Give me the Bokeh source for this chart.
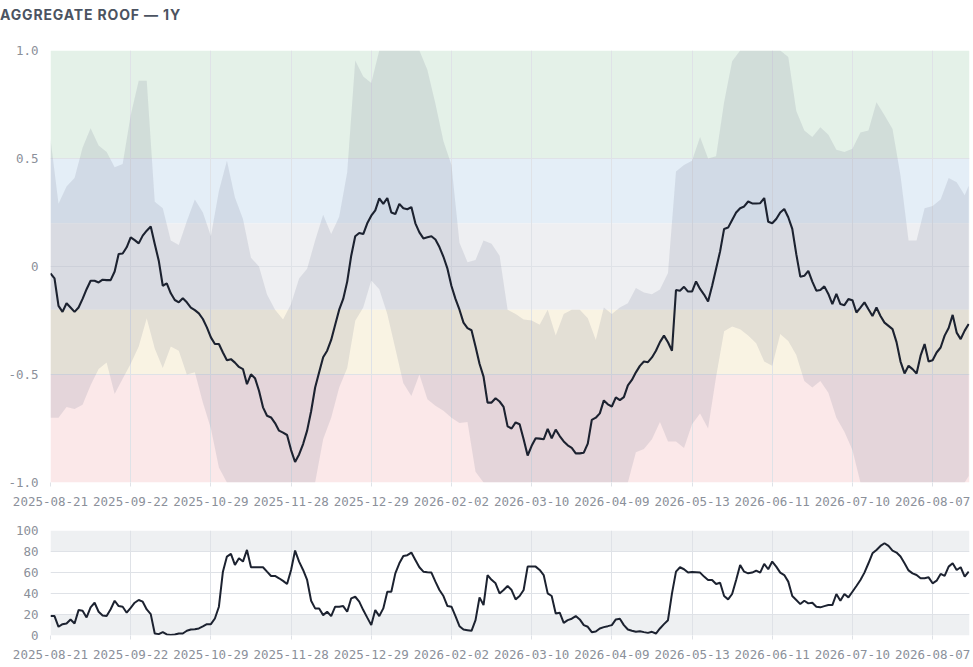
from bokeh.plotting import figure
from bokeh.models import Range1d, FixedTicker, BoxAnnotation, Div
from bokeh.layouts import column
from bokeh.embed import file_html
from bokeh.resources import INLINE

# ---------------- data ----------------
tick_idx = [0, 20, 40, 60, 80, 100, 120, 140, 160, 180, 200, 220]
tick_labels = ["2025-08-21", "2025-09-22", "2025-10-29", "2025-11-28", "2025-12-29",
               "2026-02-02", "2026-03-10", "2026-04-09", "2026-05-13", "2026-06-11",
               "2026-07-10", "2026-08-07"]

roof = [
    -0.032, -0.055, -0.182, -0.21, -0.17, -0.19, -0.21, -0.19, -0.15, -0.105,
    -0.066, -0.066, -0.074, -0.061, -0.063, -0.063, -0.023, 0.058, 0.06, 0.089,
    0.135, 0.122, 0.107, 0.143, 0.166, 0.185, 0.104, 0.027, -0.089, -0.078,
    -0.124, -0.155, -0.166, -0.147, -0.166, -0.19, -0.202, -0.217, -0.243, -0.282,
    -0.328, -0.359, -0.359, -0.398, -0.434, -0.429, -0.445, -0.465, -0.475, -0.545,
    -0.499, -0.517, -0.575, -0.652, -0.691, -0.699, -0.725, -0.76, -0.769, -0.78,
    -0.85, -0.905, -0.87, -0.822, -0.76, -0.67, -0.56, -0.49, -0.42, -0.39,
    -0.34, -0.27, -0.2, -0.15, -0.07, 0.05, 0.14, 0.155, 0.15, 0.2,
    0.235, 0.26, 0.315, 0.29, 0.317, 0.25, 0.243, 0.29, 0.27, 0.265,
    0.275, 0.2, 0.158, 0.13, 0.135, 0.14, 0.125, 0.09, 0.045, -0.01,
    -0.09, -0.15, -0.2, -0.26, -0.285, -0.295, -0.37, -0.45, -0.51, -0.63,
    -0.63, -0.61, -0.625, -0.65, -0.74, -0.75, -0.722, -0.73, -0.8, -0.875,
    -0.83, -0.795, -0.797, -0.8, -0.752, -0.795, -0.755, -0.785, -0.81, -0.828,
    -0.84, -0.865, -0.865, -0.862, -0.82, -0.71, -0.7, -0.68, -0.62, -0.638,
    -0.648, -0.606, -0.619, -0.605, -0.55, -0.525, -0.49, -0.46, -0.44, -0.443,
    -0.421, -0.39, -0.35, -0.32, -0.351, -0.39, -0.109, -0.112, -0.094, -0.116,
    -0.116, -0.069, -0.104, -0.13, -0.162, -0.09, -0.01, 0.07, 0.174, 0.18,
    0.215, 0.25, 0.27, 0.278, 0.301, 0.292, 0.292, 0.293, 0.317, 0.207,
    0.2, 0.22, 0.25, 0.266, 0.228, 0.174, 0.057, -0.047, -0.043, -0.02,
    -0.07, -0.112, -0.109, -0.092, -0.127, -0.174, -0.127, -0.174, -0.179, -0.151,
    -0.156, -0.213, -0.19, -0.166, -0.198, -0.229, -0.19, -0.229, -0.26, -0.275,
    -0.29, -0.35, -0.44, -0.495, -0.46, -0.475, -0.495, -0.413, -0.359, -0.44,
    -0.434, -0.398, -0.375, -0.32, -0.285, -0.224, -0.306, -0.336, -0.297, -0.266,
]

env_idx = list(range(0, 229, 2)) + [229]
env_upper = [
    0.59, 0.29, 0.37, 0.41, 0.55, 0.64, 0.56, 0.53, 0.46, 0.475,
    0.70, 0.86, 0.86, 0.30, 0.27, 0.12, 0.10, 0.21, 0.31, 0.25,
    0.14, 0.35, 0.49, 0.32, 0.22, 0.04, 0.0, -0.13, -0.2, -0.245,
    -0.174, -0.055, -0.01, 0.12, 0.24, 0.15, 0.23, 0.436, 0.954, 0.88,
    0.85, 1.0, 1.0, 1.0, 1.0, 1.0, 1.0, 0.91, 0.753, 0.58,
    0.47, 0.11, 0.02, 0.03, 0.12, 0.105, 0.05, -0.2, -0.22, -0.245,
    -0.25, -0.27, -0.2, -0.32, -0.22, -0.2, -0.2, -0.24, -0.34, -0.19,
    -0.22, -0.19, -0.17, -0.1, -0.12, -0.128, -0.107, -0.03, 0.44, 0.47,
    0.49, 0.60, 0.50, 0.51, 0.76, 0.95, 1.0, 1.0, 1.0, 1.0,
    1.0, 1.0, 0.97, 0.72, 0.63, 0.6, 0.645, 0.61, 0.54, 0.53,
    0.545, 0.62, 0.63, 0.76, 0.70, 0.637, 0.42, 0.12, 0.12, 0.27,
    0.28, 0.31, 0.41, 0.39, 0.33, 0.374,
]
env_lower = [
    -0.70, -0.70, -0.65, -0.66, -0.64, -0.55, -0.475, -0.445, -0.59, -0.52,
    -0.45, -0.37, -0.24, -0.38, -0.47, -0.37, -0.39, -0.50, -0.49, -0.63,
    -0.75, -0.93, -1.0, -1.0, -1.0, -1.0, -1.0, -1.0, -1.0, -1.0,
    -1.0, -1.0, -1.0, -1.0, -0.80, -0.70, -0.56, -0.47, -0.251, -0.19,
    -0.065, -0.105, -0.22, -0.38, -0.54, -0.60, -0.50, -0.615, -0.645, -0.668,
    -0.70, -0.725, -0.72, -0.95, -1.0, -1.0, -1.0, -1.0, -1.0, -1.0,
    -1.0, -1.0, -1.0, -1.0, -1.0, -1.0, -1.0, -1.0, -1.0, -1.0,
    -1.0, -1.0, -1.0, -0.86, -0.845, -0.80, -0.72, -0.81, -0.81, -0.84,
    -0.73, -0.68, -0.75, -0.51, -0.30, -0.278, -0.29, -0.32, -0.355, -0.44,
    -0.46, -0.313, -0.345, -0.41, -0.53, -0.56, -0.53, -0.585, -0.70, -0.765,
    -0.85, -1.0, -1.0, -1.0, -1.0, -1.0, -1.0, -1.0, -1.0, -1.0,
    -1.0, -1.0, -1.0, -1.0, -1.0, -0.97,
]

osc = [
    18.5, 18.5, 8.3, 10.8, 11.5, 15.3, 11.5, 24.2, 23.6, 17.2,
    26.8, 31.2, 22.6, 19.1, 18.5, 25, 33.1, 28, 27.4, 21.7,
    26.4, 31.2, 33.8, 32.2, 24.8, 20.4, 1.9, 1.3, 3.2, 1,
    0.6, 1, 1.9, 1.9, 4.5, 5.7, 6, 6.7, 8.6, 10.8,
    10.8, 16.2, 27.4, 60.8, 75.2, 77.7, 67.2, 73.6, 70.4, 81.5,
    65, 65, 65, 65, 60.8, 56.7, 56.7, 54.5, 52, 49,
    62.4, 80.9, 70.4, 62.4, 52.9, 33.1, 25.8, 25.8, 19.4, 22.6,
    18.5, 27.4, 27.4, 28, 22.6, 35.4, 36.9, 32.2, 24.2, 17,
    9.9, 24.2, 18.5, 25.8, 41.7, 41.7, 59.2, 68.8, 75.8, 76.5,
    79, 72, 65, 60.8, 60.3, 59.9, 51.3, 43.3, 37.6, 28,
    27.4, 18.5, 8.9, 5.7, 5.1, 4.5, 14.6, 36.3, 29, 57.6,
    53, 49.7, 40.1, 43.3, 47.1, 43.3, 34.4, 37.6, 43.3, 65.6,
    65.6, 65.6, 62.4, 57.6, 40.1, 37.6, 21, 21.7, 12.1, 14.6,
    16, 18.5, 15.3, 9.9, 8.3, 3.2, 3.8, 6.7, 8, 8.9,
    9.9, 15.3, 15.9, 9.9, 5.7, 4.5, 3.5, 4.1, 3.2, 2.5,
    3.5, 1.9, 6.7, 10.8, 14.6, 40.1, 60.8, 65, 63.1, 59.9,
    60.5, 60.2, 59.9, 56.1, 52.9, 52.9, 49, 50.3, 37.6, 34.4,
    39.5, 52.9, 67.2, 60.8, 59.2, 59.9, 61.8, 59.9, 68.2, 63.1,
    70.4, 65.6, 59.9, 57.6, 51.3, 37.6, 33.8, 29.9, 33.1, 30.6,
    31.2, 27.4, 26.8, 28, 29, 29, 39.5, 33.1, 39.5, 36.3,
    41.7, 47.1, 52.9, 59.9, 68.8, 78.3, 81.5, 85.3, 87.9, 85.3,
    80.9, 79, 75.2, 68.8, 62, 59.2, 57.6, 54.5, 54.5, 55.4,
    49.7, 52.2, 58.6, 56.7, 65.6, 68.8, 62.4, 65, 56.1, 60.8,
]
idx = list(range(len(roof)))

zone_lo = [0.5, 0.2, -0.2, -0.5, -1.0]
zone_hi = [1.0, 0.5, 0.2, -0.2, -0.5]
zone_colors = ["#e4f1e8", "#e4eef7", "#eeeff2", "#f9f3e3", "#fbe8e9"]

roof_ticks = [-1.0, -0.5, 0, 0.5, 1.0]
roof_tick_labels = ["-1.0", "-0.5", "0", "0.5", "1.0"]

osc_zone_lo = [80, 0]
osc_zone_hi = [100, 20]
osc_ticks = [0, 20, 40, 60, 80, 100]

# ---------------- styling helpers ----------------
GRID = "#dfe2e7"
LABEL = "#8b909a"
LINE = "#1c2230"
MONO = "DejaVu Sans Mono"


def style(p, yticks, yoverrides=None):
    p.outline_line_color = None
    p.background_fill_color = "white"
    p.border_fill_color = "white"
    p.xaxis.ticker = FixedTicker(ticks=tick_idx)
    p.xaxis.major_label_overrides = dict(zip(tick_idx, tick_labels))
    p.yaxis.ticker = FixedTicker(ticks=yticks)
    if yoverrides:
        p.yaxis.major_label_overrides = yoverrides
    p.xgrid.ticker = FixedTicker(ticks=tick_idx)
    p.ygrid.ticker = FixedTicker(ticks=yticks)
    for g in (p.xgrid, p.ygrid):
        g.grid_line_color = GRID
        g.grid_line_width = 1
    for ax in (p.xaxis, p.yaxis):
        ax.axis_line_color = None
        ax.minor_tick_line_color = None
        ax.major_label_text_font = MONO
        ax.major_label_text_font_size = "12.5px"
        ax.major_label_text_color = LABEL
    p.xaxis.major_tick_line_color = GRID
    p.xaxis.major_tick_in = 0
    p.xaxis.major_tick_out = 4
    p.yaxis.major_tick_line_color = None
    p.yaxis.major_tick_in = 0
    p.yaxis.major_tick_out = 0
    p.yaxis.major_label_standoff = 12


x_range = Range1d(0, 229.2)

# ---------------- top chart ----------------
p1 = figure(frame_width=919, frame_height=432, x_range=x_range, y_range=Range1d(-1, 1),
            output_backend="svg", toolbar_location=None,
            min_border_left=50, min_border_right=2, min_border_top=10, min_border_bottom=0)
for lo, hi, col in zip(zone_lo, zone_hi, zone_colors):
    p1.add_layout(BoxAnnotation(bottom=lo, top=hi, fill_color=col, fill_alpha=1.0,
                                line_color=None, level="image"))
p1.varea(x=env_idx, y1=env_lower, y2=env_upper, fill_color="#707590", fill_alpha=0.16)
p1.line(idx, roof, line_color=LINE, line_width=2.1)
style(p1, roof_ticks, dict(zip(roof_ticks, roof_tick_labels)))
p1.xaxis.major_label_standoff = 10

# ---------------- bottom chart ----------------
p2 = figure(frame_width=919, frame_height=105, x_range=x_range, y_range=Range1d(0, 100),
            output_backend="svg", toolbar_location=None,
            min_border_left=50, min_border_right=2, min_border_top=22, min_border_bottom=0)
for lo, hi in zip(osc_zone_lo, osc_zone_hi):
    p2.add_layout(BoxAnnotation(bottom=lo, top=hi, fill_color="#eef0f2", fill_alpha=1.0,
                                line_color=None, level="image"))
p2.line(idx, osc, line_color=LINE, line_width=2.0)
style(p2, osc_ticks)
p2.xaxis.major_label_standoff = 10

title = Div(text="AGGREGATE ROOF — 1Y", width=971, height=40, margin=(0, 0, 0, 0),
            styles={"font-family": "Inter, 'Noto Sans', sans-serif", "font-weight": "700",
                    "font-size": "14px", "color": "#4b5361", "letter-spacing": "0.85px",
                    "line-height": "16px", "padding-top": "7px"})

layout = column(title, p1, p2, spacing=0)
open("out.html", "w").write(file_html(layout, INLINE))
